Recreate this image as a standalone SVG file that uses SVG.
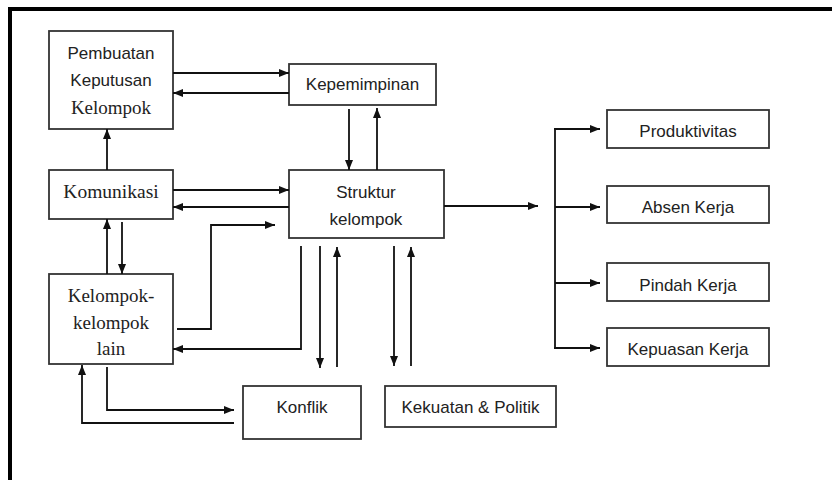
<svg xmlns="http://www.w3.org/2000/svg" width="832" height="480" viewBox="0 0 832 480">
<defs>
<marker id="ah" viewBox="0 0 10 8" refX="10" refY="4" markerWidth="10" markerHeight="8" markerUnits="userSpaceOnUse" orient="auto"><path d="M0,0 L10,4 L0,8 z" fill="#111"/></marker>
<style>
.box{fill:#fff;stroke:#333;stroke-width:1.8}
.s{font-family:"Liberation Sans",Arial,sans-serif;font-size:17px;fill:#222;text-anchor:middle}
.r{font-family:"Liberation Serif","Times New Roman",serif;font-size:19px;fill:#222;text-anchor:middle}
#connectors path{fill:none;stroke:#111;stroke-width:1.8}
#connectors .a{marker-end:url(#ah)}
</style>
</defs>
<rect x="0" y="0" width="832" height="480" fill="#fff"/>
<path d="M10,480 V9 H832" fill="none" stroke="#000" stroke-width="4"/>

<g id="pembuatan"><rect class="box" x="49" y="31" width="124" height="98"/>
<text class="s" x="111" y="58.5">Pembuatan</text><text class="s" x="111" y="86">Keputusan</text><text class="r" x="111" y="113.5">Kelompok</text></g>
<g id="kepemimpinan"><rect class="box" x="289" y="64" width="147" height="41"/><text class="s" x="362.5" y="90">Kepemimpinan</text></g>
<g id="komunikasi"><rect class="box" x="49" y="170" width="124" height="49"/><text class="r" x="111" y="198" style="font-size:19.5px">Komunikasi</text></g>
<g id="struktur"><rect class="box" x="289" y="170" width="155" height="68"/><text class="s" x="366" y="198">Struktur</text><text class="s" x="366" y="225">kelompok</text></g>
<g id="kelompok-lain"><rect class="box" x="49" y="274" width="124" height="90"/>
<text class="r" x="111" y="302">Kelompok-</text><text class="r" x="111" y="329">kelompok</text><text class="r" x="111" y="355">lain</text></g>
<g id="konflik"><rect class="box" x="243" y="386" width="118" height="53"/><text class="s" x="302" y="413">Konflik</text></g>
<g id="kekuatan"><rect class="box" x="385" y="386" width="171" height="41"/><text class="s" x="470.5" y="413">Kekuatan &amp; Politik</text></g>
<g id="produktivitas"><rect class="box" x="607" y="110" width="162" height="38"/><text class="s" x="688" y="137">Produktivitas</text></g>
<g id="absen"><rect class="box" x="607" y="186" width="162" height="37"/><text class="s" x="688" y="213">Absen Kerja</text></g>
<g id="pindah"><rect class="box" x="607" y="263" width="162" height="38"/><text class="s" x="688" y="291">Pindah Kerja</text></g>
<g id="kepuasan"><rect class="box" x="607" y="328" width="162" height="38"/><text class="s" x="688" y="355">Kepuasan Kerja</text></g>

<g id="connectors">
<path class="a" d="M173,73 H289"/>
<path class="a" d="M289,93 H173"/>
<path class="a" d="M349,109 V170"/>
<path class="a" d="M377,170 V108"/>
<path class="a" d="M173,190 H289"/>
<path class="a" d="M289,207 H173"/>
<path class="a" d="M107,170 V129"/>
<path class="a" d="M107,274 V219"/>
<path class="a" d="M122,222 V274"/>
<path class="a" d="M177,329 H211 V225 H275"/>
<path class="a" d="M301,246 V349 H173"/>
<path class="a" d="M320,246 V368"/>
<path class="a" d="M337,367 V247"/>
<path class="a" d="M394,246 V366"/>
<path class="a" d="M411,366 V247"/>
<path class="a" d="M107,367 V410 H234"/>
<path class="a" d="M234,423 H82 V365"/>
<path class="a" d="M444,206 H538"/>
<path d="M555,128.1 V348.9"/>
<path class="a" d="M554.1,129 H600"/>
<path class="a" d="M555,207 H600"/>
<path class="a" d="M555,283 H600"/>
<path class="a" d="M554.1,348 H600"/>
</g>
</svg>
